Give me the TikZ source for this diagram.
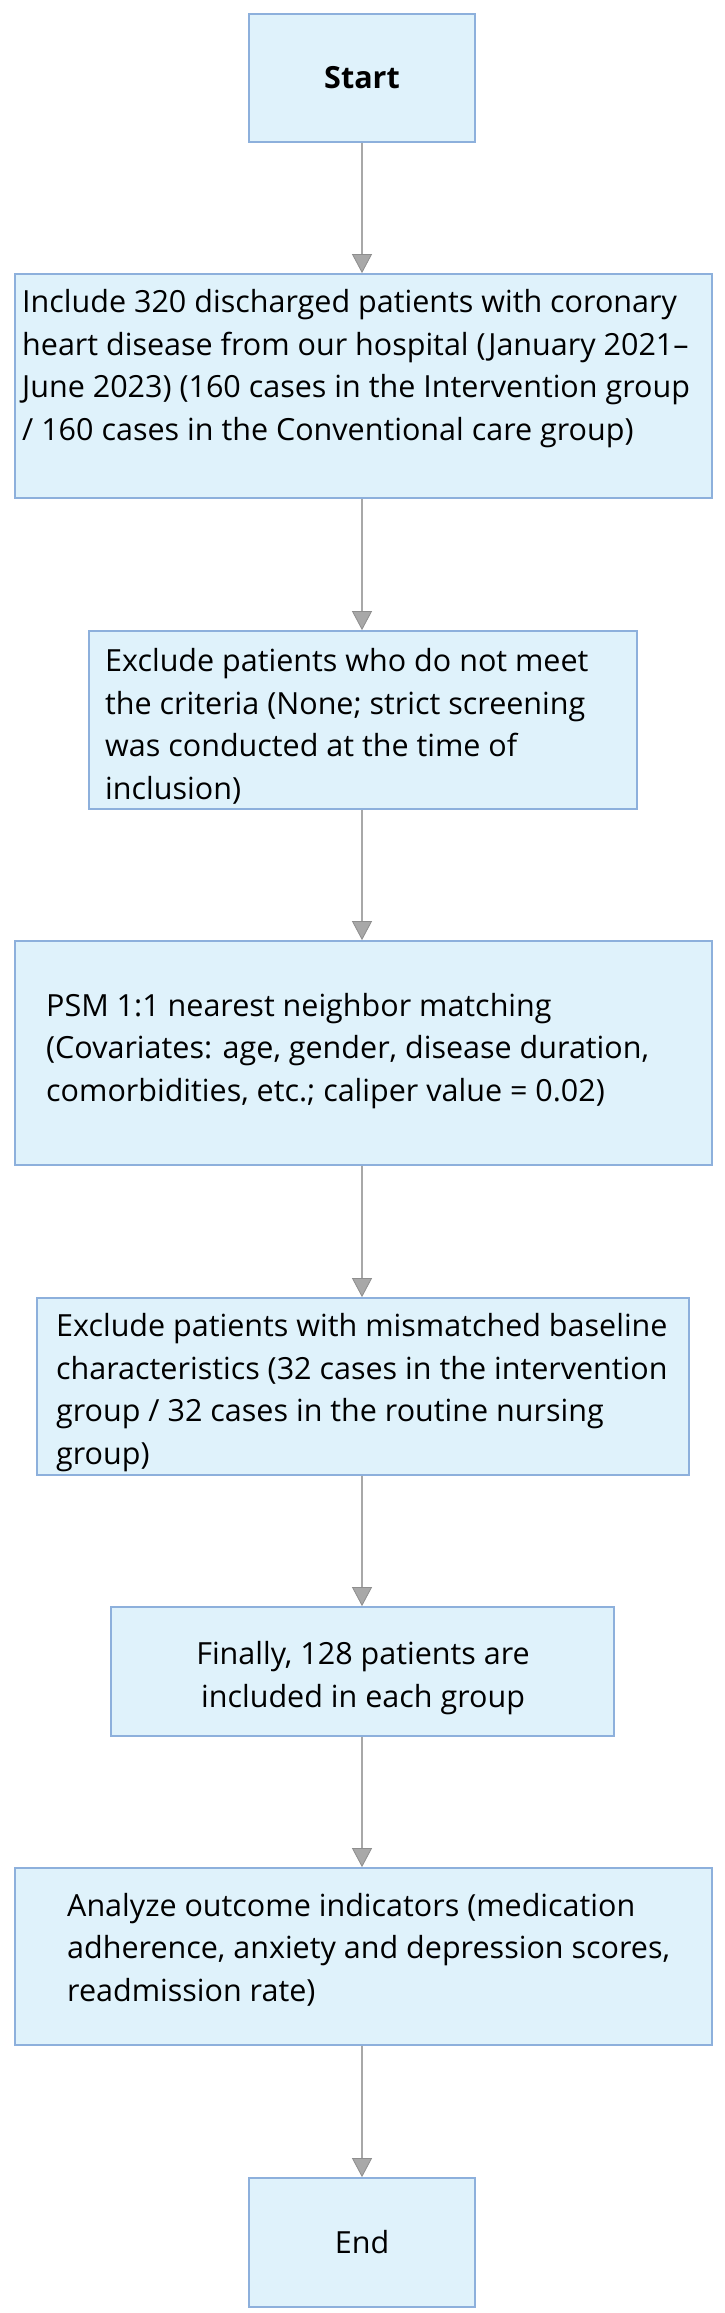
\documentclass[tikz,border=0pt]{standalone}
\usepackage{fontspec}
\setmainfont{Open Sans}
\usetikzlibrary{arrows.meta}
\definecolor{boxfill}{HTML}{DFF2FB}
\definecolor{boxline}{HTML}{8DB0DC}
\definecolor{connline}{HTML}{A8A8A8}
\definecolor{tipline}{HTML}{8E8E8E}
\tikzset{
  box/.style={draw=boxline, fill=boxfill, line width=1.8pt, inner sep=0pt, rectangle},
  conn/.style={draw=connline, line width=1.5pt,
    -{Triangle[width=20pt,length=19pt,fill=connline,color=tipline,line width=0.8pt]}},
  txt/.style={inner sep=0pt, font=\fontsize{30.5}{42.5}\selectfont, text=black},
}
\begin{document}
\begin{tikzpicture}[x=1pt,y=-1pt]
\useasboundingbox (0,0) rectangle (725,2313);
\fill[white] (0,0) rectangle (725,2313);

% boxes
\node[box, minimum width=226, minimum height=128] (start) at (362,78) {};
\node[box, minimum width=697, minimum height=224] (incl)  at (363.5,386) {};
\node[box, minimum width=548, minimum height=178] (excl)  at (363,720) {};
\node[box, minimum width=697, minimum height=224] (psm)   at (363.5,1053) {};
\node[box, minimum width=652, minimum height=177] (excl2) at (363,1386.5) {};
\node[box, minimum width=503, minimum height=129] (fin)   at (362.5,1671.5) {};
\node[box, minimum width=697, minimum height=177] (ana)   at (363.5,1956.5) {};
\node[box, minimum width=226, minimum height=129] (end)   at (362,2242.5) {};

% texts (anchored at the baseline of the last line)
\node[txt, anchor=base, font=\fontsize{30.5}{42.5}\selectfont\bfseries] (tstart) at (362,88) {Start};
\node[txt, anchor=base west, align=left] (tincl) at (22,440) {Include 320 discharged patients with coronary\\
heart disease from our hospital (January 2021--\\
June 2023) (160 cases in the Intervention group\\
/ 160 cases in the Conventional care group)};
\node[txt, anchor=base west, align=left] (texcl) at (105,799) {Exclude patients who do not meet\\
the criteria (None; strict screening\\
was conducted at the time of\\
inclusion)};
\node[txt, anchor=base west, align=left] (tpsm) at (46,1101) {PSM 1:1 nearest neighbor matching\\
(Covariates: age, gender, disease duration,\\
comorbidities, etc.; caliper value = 0.02)};
\node[txt, anchor=base west, align=left] (texcl2) at (56,1464) {Exclude patients with mismatched baseline\\
characteristics (32 cases in the intervention\\
group / 32 cases in the routine nursing\\
group)};
\node[txt, anchor=base, align=center] (tfin) at (363,1707) {Finally, 128 patients are\\
included in each group};
\node[txt, anchor=base west, align=left] (tana) at (67,2001) {Analyze outcome indicators (medication\\
adherence, anxiety and depression scores,\\
readmission rate)};
\node[txt, anchor=base] (tend) at (362,2253) {End};

% connectors
\draw[conn] (start.south) -- (start.south |- incl.north);
\draw[conn] (start.south |- incl.south) -- (start.south |- excl.north);
\draw[conn] (start.south |- excl.south) -- (start.south |- psm.north);
\draw[conn] (start.south |- psm.south) -- (start.south |- excl2.north);
\draw[conn] (start.south |- excl2.south) -- (start.south |- fin.north);
\draw[conn] (start.south |- fin.south) -- (start.south |- ana.north);
\draw[conn] (start.south |- ana.south) -- (end.north);
\end{tikzpicture}
\end{document}
